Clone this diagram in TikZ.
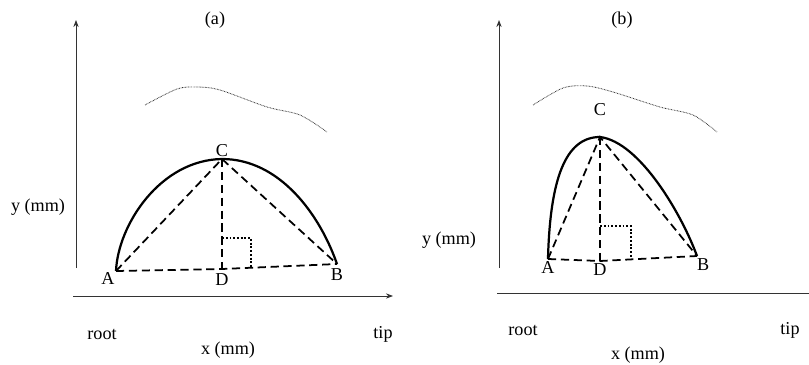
\documentclass[tikz,border=0pt]{standalone}
\usepackage{fontspec}
\setmainfont{Liberation Serif}
\usetikzlibrary{arrows.meta, calc, positioning}
\tikzset{
  axis line/.style={
    -{Stealth[length=6pt, width=4.5pt]},
    line width=0.8pt,
    color=black!80
  },
  plain axis/.style={
    -,
    line width=0.8pt,
    color=black!80
  },
  profile/.style={
    line width=1.9pt
  },
  chord/.style={
    line width=1.5pt,
    dash pattern=on 7pt off 4pt
  },
  envelope/.style={
    line width=0.7pt,
    dash pattern=on 0.6pt off 0.7pt,
    color=black!80
  },
  right mark/.style={
    line width=1.3pt,
    dash pattern=on 1.6pt off 1.6pt
  },
  pt label/.style={
    font=\fontsize{15.5}{18}\selectfont,
    inner sep=1pt
  },
  axis label/.style={
    font=\fontsize{15.5}{18}\selectfont,
    inner sep=1pt
  }
}

\begin{document}
\begin{tikzpicture}[x=0.03cm, y=-0.03cm]
    \useasboundingbox (0,0) rectangle (809,365);

    % 1. 图 (a)
    \begin{scope}
      % 坐标轴
      \coordinate (Oya) at (76,268);
      \coordinate (Ya) at (76,20);
      \coordinate (Oxa) at (73,296);
      \coordinate (Xa) at (393,296);
      \draw[axis line] (Oya) -- (Ya);
      \draw[axis line] (Oxa) -- (Xa);
      \node[axis label] (tta) at (215,20) {(a)};
      \node[axis label] (ylba) at (38,207) {y (mm)};
      \node[axis label] (roota) at (102,334) {root};
      \node[axis label] (tipa) at (383,334) {tip};
      \node[axis label] (xlba) at (228,350) {x (mm)};
      % 点 A, B, C, D
      \coordinate (A1) at (116,271);
      \coordinate (B1) at (337,264);
      \coordinate (C1) at (222,159);
      \coordinate (D1) at (222,269);
      % 包络线 (点线)
      \draw[envelope] plot[smooth] coordinates {(145,105) (177,89) (197,87) (220,90) (267,107) (300,115) (327,132)};
      % 实线轮廓
      \draw[profile] (A1) .. controls (118,225) and (160,160) .. (C1)
        .. controls (280,159) and (320,215) .. (B1);
      % 虚线三角形
      \draw[chord] (A1) -- (C1) -- (B1);
      \draw[chord] (A1) -- (D1) -- (B1);
      \draw[chord] (C1) -- (D1);
      % 直角记号
      \draw[right mark] ($(D1)+(0,-31)$) -| ($(D1)+(29,-1)$);
      \node[pt label, below left=0pt and 0pt of A1] (la1) {A};
      \node[pt label, below=3pt of B1] (lb1) {B};
      \node[pt label, above=1pt of C1] (lc1) {C};
      \node[pt label, below=3pt of D1] (ld1) {D};
    \end{scope}

    % 2. 图 (b)
    \begin{scope}
      % 坐标轴
      \coordinate (Oyb) at (499,268);
      \coordinate (Yb) at (499,20);
      \coordinate (Oxb) at (497,293);
      \coordinate (Xb) at (809,293);
      \draw[axis line] (Oyb) -- (Yb);
      \draw[plain axis] (Oxb) -- (Xb);
      \node[axis label] (ttb) at (622,20) {(b)};
      \node[axis label] (ylbb) at (449,240) {y (mm)};
      \node[axis label] (rootb) at (523,330) {root};
      \node[axis label] (tipb) at (790,330) {tip};
      \node[axis label] (xlbb) at (638,355) {x (mm)};
      % 点 A, B, C, D
      \coordinate (A2) at (548,259);
      \coordinate (B2) at (697,256);
      \coordinate (C2) at (600,137);
      \coordinate (D2) at (600,261);
      % 包络线 (点线)
      \draw[envelope] plot[smooth] coordinates {(533,105) (563,88) (587,86) (613,92) (660,107) (693,115) (717,132)};
      % 实线轮廓
      \draw[profile] (A2) .. controls (550,180) and (565,137) .. (C2)
        .. controls (640,142) and (682,215) .. (B2);
      % 虚线三角形
      \draw[chord] (A2) -- (C2) -- (B2);
      \draw[chord] (A2) -- (D2) -- (B2);
      \draw[chord] (C2) -- (D2);
      % 直角记号
      \draw[right mark] ($(D2)+(0,-35)$) -| ($(D2)+(31,-1)$);
      \node[pt label, below=1pt of A2] (la2) {A};
      \node[pt label, below right=1pt and -1pt of B2] (lb2) {B};
      \node[pt label, above=17pt of C2] (lc2) {C};
      \node[pt label, below=1pt of D2] (ld2) {D};
    \end{scope}

  \end{tikzpicture}
\end{document}
